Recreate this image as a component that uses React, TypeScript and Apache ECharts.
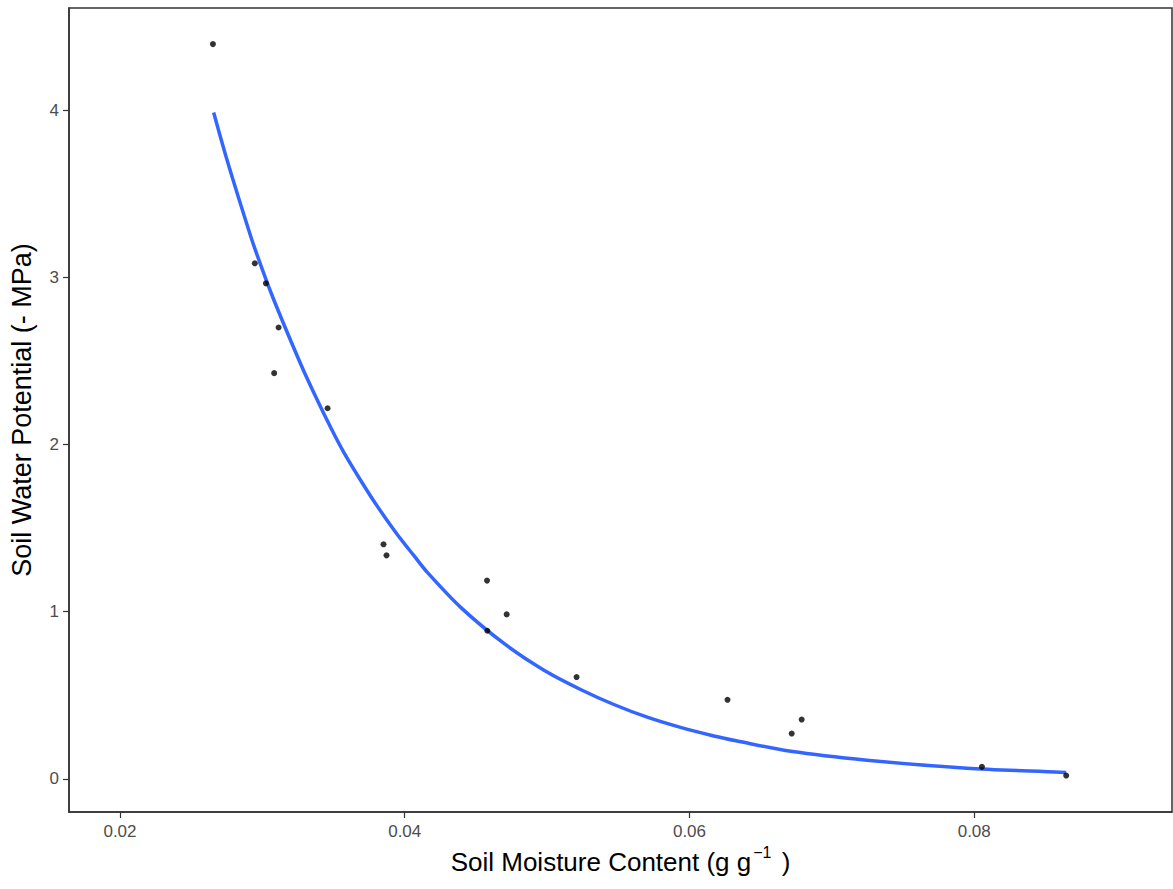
import React, { useEffect, useRef } from "react";
import * as echarts from "echarts";

// Observed data (soil moisture g/g, soil water potential -MPa)
const obsMoisture = [0.02653, 0.02947, 0.03025, 0.03114, 0.03083, 0.03458, 0.03851, 0.03872, 0.04578, 0.04716, 0.0458, 0.05207, 0.06267, 0.06788, 0.06718, 0.08054, 0.08646];
const obsPotential = [4.395, 3.084, 2.964, 2.70, 2.427, 2.217, 1.403, 1.337, 1.186, 0.984, 0.886, 0.609, 0.473, 0.355, 0.271, 0.072, 0.020];

// Fitted curve
const fitMoisture = [0.02658, 0.02732, 0.02802, 0.02872, 0.02942, 0.03072, 0.0327, 0.03364, 0.03481, 0.03574, 0.03691, 0.03808, 0.03949, 0.04065, 0.04159, 0.04393, 0.04697, 0.04978, 0.05235, 0.05469, 0.05703, 0.05937, 0.06171, 0.06335, 0.06712, 0.07247, 0.07949, 0.08604, 0.08646];
const fitPotential = [3.986, 3.76, 3.561, 3.37, 3.185, 2.884, 2.48, 2.305, 2.10, 1.95, 1.785, 1.63, 1.46, 1.335, 1.235, 1.026, 0.81, 0.65, 0.535, 0.445, 0.369, 0.308, 0.257, 0.227, 0.165, 0.112, 0.064, 0.04, 0.038];

const xTicks = [0.02, 0.04, 0.06, 0.08];
const yTicks = [0, 1, 2, 3, 4];

const FONT = "'Liberation Sans', Arial, sans-serif";

export default function App() {
  const ref = useRef<HTMLDivElement>(null);
  useEffect(() => {
    if (!ref.current) return;
    const chart = echarts.init(ref.current, null, { renderer: "svg" });
    chart.setOption({
      animation: false,
      backgroundColor: "#ffffff",
      grid: {
        left: 68,
        top: 8,
        right: 1,
        bottom: 77,
        show: true,
        borderColor: "#333333",
        borderWidth: 1.5,
        backgroundColor: "transparent",
      },
      xAxis: {
        type: "value",
        min: 0.01642,
        max: 0.09389,
        splitLine: { show: false },
        axisLine: { show: true, onZero: false, lineStyle: { color: "#333333", width: 1.5 } },
        axisTick: {
          show: true,
          inside: false,
          length: 6,
          customValues: xTicks,
          lineStyle: { color: "#333333", width: 1.2 },
        },
        axisLabel: {
          customValues: xTicks,
          formatter: (v: number) => String(Number(v.toFixed(2))),
          color: "#4D4D4D",
          fontSize: 17,
          fontFamily: FONT,
          margin: 11,
        },
        name: "{a|Soil Moisture Content (g g}{s|−1}{a| )}",
        nameLocation: "middle",
        nameGap: 25,
        nameTextStyle: {
          verticalAlign: "top",
          rich: {
            a: { fontSize: 26, fontFamily: FONT, color: "#000000", verticalAlign: "bottom", lineHeight: 30 },
            s: { fontSize: 16, fontFamily: FONT, color: "#000000", verticalAlign: "top", lineHeight: 30, padding: [0, 3, 16, 2] },
          },
        },
      },
      yAxis: {
        type: "value",
        min: -0.198,
        max: 4.611,
        splitLine: { show: false },
        axisLine: { show: true, onZero: false, lineStyle: { color: "#333333", width: 1.5 } },
        axisTick: {
          show: true,
          inside: false,
          length: 6,
          customValues: yTicks,
          lineStyle: { color: "#333333", width: 1.2 },
        },
        axisLabel: {
          customValues: yTicks,
          color: "#4D4D4D",
          fontSize: 17,
          fontFamily: FONT,
          margin: 10,
        },
        name: "Soil Water Potential (- MPa)",
        nameLocation: "middle",
        nameGap: 34,
        nameTextStyle: { fontSize: 27, fontFamily: FONT, color: "#000000" },
      },
      series: [
        {
          type: "line",
          data: fitMoisture.map((x, i) => [x, fitPotential[i]]),
          smooth: 0.3,
          showSymbol: false,
          lineStyle: { color: "#3366FF", width: 3.5 },
          z: 2,
        },
        {
          type: "scatter",
          data: obsMoisture.map((x, i) => [x, obsPotential[i]]),
          symbol: "circle",
          symbolSize: 6,
          itemStyle: { color: "#000000" },
          z: 3,
        },
      ],
    });
    return () => chart.dispose();
  }, []);
  return (
    <div
      ref={ref}
      style={{ position: "fixed", left: 0, top: 0, width: 1173, height: 889, background: "#fff" }}
    />
  );
}
